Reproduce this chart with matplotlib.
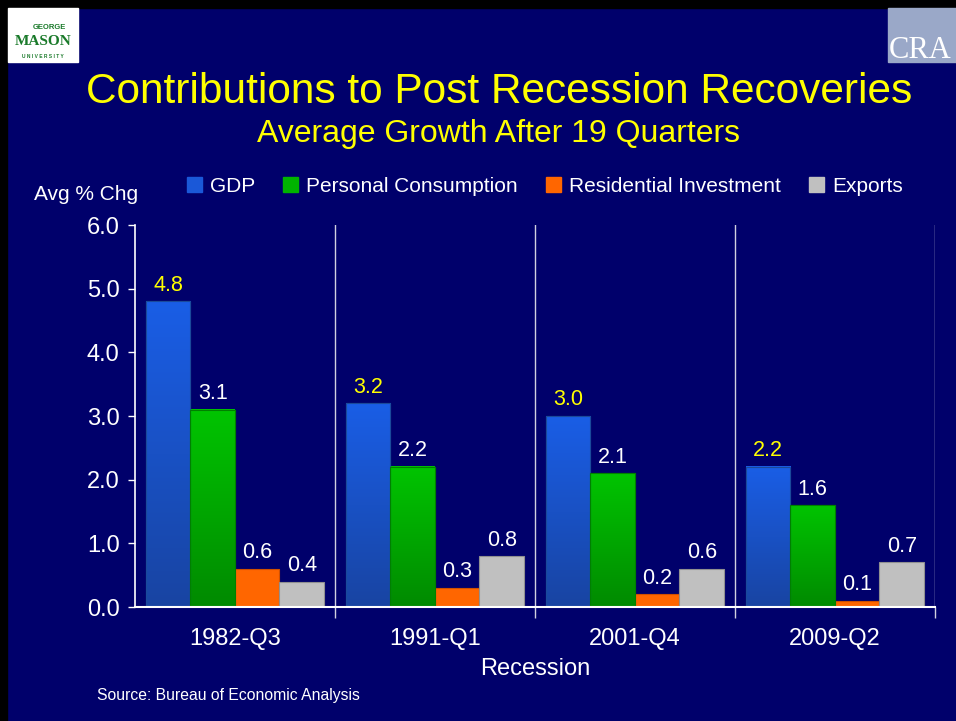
import numpy as np
import matplotlib.pyplot as plt
from matplotlib.patches import Rectangle
from matplotlib.colors import LinearSegmentedColormap

plt.rcParams['font.family'] = ['Liberation Sans', 'DejaVu Sans']

recessions = ['1982-Q3', '1991-Q1', '2001-Q4', '2009-Q2']
series = ['GDP', 'Personal Consumption', 'Residential Investment', 'Exports']
gdp = [4.8, 3.2, 3.0, 2.2]
consumption = [3.1, 2.2, 2.1, 1.6]
residential = [0.6, 0.3, 0.2, 0.1]
exports = [0.4, 0.8, 0.6, 0.7]
values = [gdp, consumption, residential, exports]

bg = '#00006b'
colors = ['#1a58d8', '#00b400', '#ff6600', '#c0c0c0']
edges = ['#1a4a9a', '#008000', '#d05000', '#909090']
gradients = [('#1a5ee6', '#1844a2'), ('#00c400', '#008a00'), None, None]
label_colors = ['#ffff00', 'white', 'white', 'white']

fig = plt.figure(figsize=(9.56, 7.21), dpi=100, facecolor=bg)
ax = fig.add_axes([0.1412, 0.1581, 0.8368, 0.5298])
ax.set_facecolor(bg)

x = np.arange(len(recessions))
w = 0.2225
for i, vals in enumerate(values):
    pos = x + (i - 1.5) * w
    bars = ax.bar(pos, vals, width=w, color=colors[i], edgecolor=edges[i],
                  linewidth=0.8, zorder=3)
    if gradients[i] is not None:
        cmap = LinearSegmentedColormap.from_list('g', [gradients[i][1], gradients[i][0]])
        grad = np.linspace(0, 1, 256).reshape(-1, 1)
        for b in bars:
            bx, bw, bh = b.get_x(), b.get_width(), b.get_height()
            ax.imshow(grad, extent=[bx, bx + bw, 0, bh], origin='lower',
                      aspect='auto', cmap=cmap, zorder=3.5)
            ax.add_patch(Rectangle((bx, 0), bw, bh, fill=False,
                                   edgecolor=edges[i], linewidth=0.8, zorder=4))
    for p, v in zip(pos, vals):
        ax.annotate(f'{v:.1f}', (p, v), xytext=(0, 4), textcoords='offset points',
                    ha='center', va='bottom', color=label_colors[i], fontsize=15.5,
                    zorder=5)

ax.set_xlim(-0.5, 3.5)
ax.set_ylim(0, 6)
ax.set_yticks(np.arange(0, 6.1, 1.0))
ax.set_yticklabels([f'{t:.1f}' for t in np.arange(0, 6.1, 1.0)])
ax.set_xticks(x)
ax.set_xticklabels(recessions)
ax.set_xticks([0.5, 1.5, 2.5, 3.5], minor=True)
for s in [0.5, 1.5, 2.5, 3.5]:
    ax.axvline(s, color='#d0d0e0', linewidth=1.0, zorder=1)

ax.tick_params(axis='y', colors='white', labelsize=17, length=5, width=1, pad=6)
ax.tick_params(axis='x', which='major', colors='white', labelsize=17, length=0, pad=15)
ax.tick_params(axis='x', which='minor', colors='#d0d0e0', length=8, width=1)
for sp in ['top', 'right']:
    ax.spines[sp].set_visible(False)
ax.spines['left'].set_color('white')
ax.spines['bottom'].set_color('white')
ax.spines['left'].set_linewidth(1.2)
ax.spines['bottom'].set_linewidth(1.5)
ax.spines['bottom'].set_zorder(6)

ax.set_xlabel('Recession', color='white', fontsize=17, labelpad=6)

handles = [Rectangle((0, 0), 1, 1, color=c) for c in colors]
fig.legend(handles, series, loc='center', bbox_to_anchor=(0.570, 0.742), ncol=4,
           frameon=False, fontsize=15, labelcolor='white', handlelength=0.7,
           handleheight=0.7, handletextpad=0.4, columnspacing=1.35)

fig.text(0.036, 0.73, 'Avg % Chg', color='white', fontsize=15, ha='left', va='center')
fig.text(0.522, 0.872, 'Contributions to Post Recession Recoveries', color='#ffff00',
         fontsize=30.5, ha='center', va='center')
fig.text(0.521, 0.814, 'Average Growth After 19 Quarters', color='#ffff00',
         fontsize=23, ha='center', va='center')
fig.text(0.101, 0.036, 'Source: Bureau of Economic Analysis', color='white',
         fontsize=11.3, ha='left', va='center')

# slide frame
fig.patches.append(Rectangle((0, 0.989), 1, 0.011, transform=fig.transFigure,
                             color='black', zorder=0))
fig.patches.append(Rectangle((0, 0), 0.007, 1, transform=fig.transFigure,
                             color='black', zorder=0))

# logos
fig.patches.append(Rectangle((0.008, 0.914), 0.074, 0.075, transform=fig.transFigure,
                             color='white', zorder=1))
fig.text(0.052, 0.962, 'GEORGE', color='#1a7a2a', fontsize=5.5, fontweight='bold',
         ha='center', va='center')
fig.text(0.045, 0.942, 'MASON', color='#1a7a2a', fontsize=11, fontweight='bold',
         family='Liberation Serif', ha='center', va='center')
fig.text(0.045, 0.922, 'U N I V E R S I T Y', color='#1a7a2a', fontsize=3.5,
         fontweight='bold', ha='center', va='center')
fig.patches.append(Rectangle((0.929, 0.914), 0.071, 0.075, transform=fig.transFigure,
                             color='#9aa8c8', zorder=1))
fig.text(0.93, 0.93, 'CRA', color='white', fontsize=22, family='Liberation Serif',
         ha='left', va='center')

fig.savefig('out.png', dpi=100, facecolor=bg)
